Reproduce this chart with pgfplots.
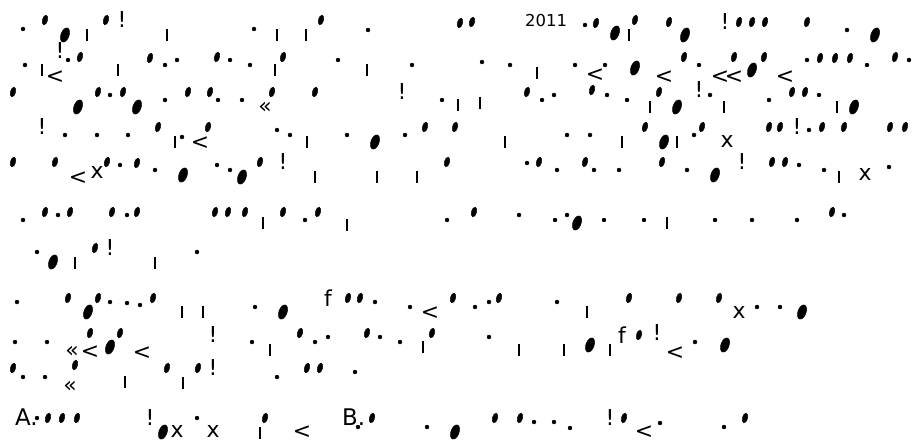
\documentclass[border=0pt]{standalone}
\usepackage{fontspec}
\setmainfont{DejaVu Sans}
\usepackage{pgfplots}
\pgfplotsset{compat=1.18}

% glyph fragments, in pixel coordinates (y down)
\pgfplotsset{
  frag/.style={only marks, black, forget plot},
  tear/.style={frag, mark=*, mark size=5, mark options={draw=none, fill=black, rotate=-15, xscale=0.52}},
  blob/.style={frag, mark=*, mark size=7.5, mark options={draw=none, fill=black, rotate=-20, xscale=0.55}},
  dotm/.style={frag, mark=*, mark size=2, mark options={draw=none, fill=black}},
  flag/.style={frag, mark=|, mark size=6.5, mark options={line width=2.2pt}},
  glyph/.style={frag, mark=text, text mark={\fontsize{22}{22}\selectfont #1}},
}

\begin{document}
\begin{tikzpicture}
\begin{axis}[
  width=917bp, height=446bp, scale only axis,
  xmin=0, xmax=917, ymin=0, ymax=446, y dir=reverse,
  axis line style={draw=none}, ticks=none,
  clip=false,
]
\addplot[tear] coordinates {
 (45,20) (106,20) (321,20) (460,23) (472,22) (596,23) (635,20) (669,22) (739,22) (752,22) (765,22) (807,22)
 (80,57) (150,58) (217,57) (283,57) (684,57) (734,57) (764,57) (820,58) (835,58) (850,58) (895,57)
 (13,92) (98,92) (123,92) (188,92) (210,92) (272,92) (315,92) (527,92) (592,90) (659,92) (792,92) (805,92)
 (158,127) (208,127) (425,127) (455,127) (645,127) (702,127) (769,127) (780,127) (822,127) (844,127) (890,127) (905,127)
 (13,162) (55,162) (107,162) (137,163) (260,162) (447,162) (539,162) (585,162) (662,162) (772,162) (785,162)
 (45,212) (70,212) (112,212) (137,212) (215,212) (228,212) (245,212) (283,212) (318,212) (474,212) (832,212)
 (95,248)
 (68,298) (98,298) (153,298) (348,298) (360,298) (453,298) (499,298) (629,298) (679,298) (719,298)
 (90,333) (120,333) (300,333) (367,333) (432,333) (639,335)
 (13,368) (75,365) (167,368) (198,368) (307,368) (320,368)
 (48,418) (62,418) (77,418) (265,418) (372,418) (495,418) (520,418) (624,418) (745,418)
};
\addplot[blob] coordinates {
 (65,35) (615,33) (685,35) (875,35) (635,68) (752,70) (78,107) (137,107) (677,107) (854,107)
 (375,142) (664,142) (183,175) (242,177) (715,175) (577,223) (53,262) (88,312) (283,312) (802,312)
 (110,347) (590,345) (725,345) (163,432) (455,432)
};
\addplot[dotm] coordinates {
 (23,29) (254,29) (368,30) (585,25) (847,30)
 (25,65) (68,60) (165,65) (177,60) (230,60) (250,65) (338,60) (412,65) (482,62) (510,65) (575,65) (605,65) (699,65) (807,60) (867,65) (909,60)
 (110,95) (165,100) (218,100) (242,100) (442,100) (542,100) (554,95) (607,95) (627,100) (710,95) (769,100) (819,95)
 (65,135) (97,135) (128,135) (182,137) (277,130) (290,135) (347,135) (405,135) (567,135) (590,135) (694,135) (809,130)
 (120,165) (155,170) (217,165) (230,170) (527,163) (557,170) (594,170) (619,170) (687,170) (799,165) (824,170) (889,167)
 (23,220) (58,215) (127,215) (305,220) (447,220) (519,215) (555,220) (567,215) (604,220) (644,220) (715,220) (752,220) (797,220) (844,215)
 (37,252) (197,252)
 (17,302) (110,302) (127,303) (140,305) (255,307) (375,302) (410,307) (475,307) (489,302) (557,302) (757,307) (780,307)
 (15,342) (47,342) (252,342) (315,342) (328,337) (380,337) (400,342) (489,337) (695,342)
 (23,377) (45,377) (277,377) (355,372)
 (37,418) (197,418) (358,427) (427,427) (534,422) (554,422) (570,428) (660,423) (724,427)
};
\addplot[flag] coordinates {
 (87,35) (167,35) (277,35) (306,35) (629,35)
 (42,70) (118,70) (275,70) (367,70) (537,73)
 (458,105) (480,103) (650,107) (724,107) (837,107)
 (175,142) (307,142) (505,142) (622,142) (677,142)
 (315,177) (377,177) (417,177) (839,177)
 (263,223) (347,225) (667,223)
 (75,263) (155,263)
 (182,312) (203,312) (587,312)
 (270,350) (423,347) (519,350) (564,350) (610,350)
 (125,382) (183,383) (260,433)
};
\addplot[glyph={<}] coordinates {
 (55,77) (595,75) (664,77) (720,77) (734,77) (785,77) (200,143) (78,178) (430,313) (90,352) (142,353) (675,353) (302,432) (644,432)
};
\addplot[glyph={«}] coordinates {(265,108) (72,352) (70,387)};
\addplot[glyph={!}] coordinates {
 (122,20) (725,22) (60,51) (402,92) (699,90) (42,127) (797,127) (283,162) (742,162) (110,248) (213,335) (657,333) (213,368) (150,418) (610,418)
};
\addplot[glyph={x}] coordinates {(727,142) (865,175) (739,313) (177,432) (213,432) (97,173)};
\addplot[glyph={f}] coordinates {(328,298) (622,335)};

% the only legible text
\node[anchor=base west, inner sep=0pt, font=\fontsize{16.5}{16.5}\selectfont] at (axis cs:525,27) {2011};
\node[anchor=base west, inner sep=0pt, font=\fontsize{23}{23}\selectfont] at (axis cs:15,425) {A.};
\node[anchor=base west, inner sep=0pt, font=\fontsize{23}{23}\selectfont] at (axis cs:342,425) {B.};
\end{axis}
\end{tikzpicture}
\end{document}
